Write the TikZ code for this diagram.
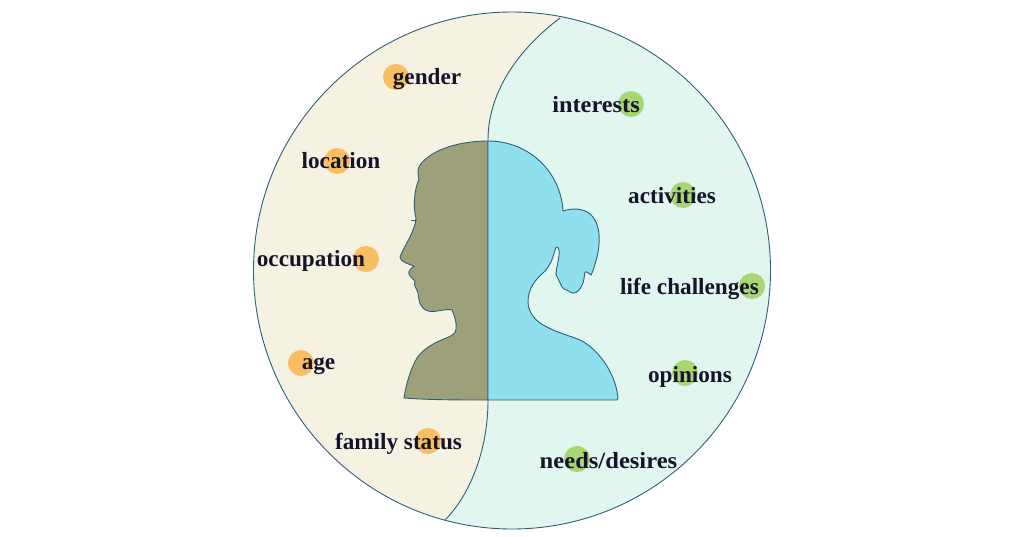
\documentclass[tikz,border=0pt]{standalone}
\usepackage{fontspec}
\setmainfont{Liberation Serif}
\definecolor{leftbg}{HTML}{F5F2E1}
\definecolor{rightbg}{HTML}{E1F6EF}
\definecolor{headl}{HTML}{9E9F7B}
\definecolor{headr}{HTML}{90DFEF}
\definecolor{edgec}{HTML}{2F6078}
\definecolor{orangedot}{HTML}{F9BE62}
\definecolor{greendot}{HTML}{A8D672}
\definecolor{labelc}{HTML}{14142B}
\tikzset{
  outline/.style={draw=edgec,line width=0.9pt,line join=round},
  odot/.style={circle,fill=orangedot,minimum size=26pt,inner sep=0pt},
  gdot/.style={circle,fill=greendot,minimum size=26pt,inner sep=0pt},
  lab/.style={text=labelc,font=\fontsize{23.2}{26}\selectfont\bfseries,inner sep=0pt,anchor=base},
}
\begin{document}
\begin{tikzpicture}[x=1pt,y=-1pt]
\useasboundingbox (0,0) rectangle (1024,536);
\fill[white] (0,0) rectangle (1024,536);
\coordinate (cc) at (512,270.5);
\begin{scope}
  \clip (cc) circle[radius=258.5pt];
  \fill[rightbg] (200,0) rectangle (800,536);
  \fill[leftbg] (200,0) -- (575,0) -- (560,18) .. controls (515,52) and (488,95) .. (488,140)
     -- (488,400) .. controls (488,450) and (470,495) .. (445,520) -- (420,536) -- (200,536) -- cycle;
\end{scope}
\draw[outline] (560,18) .. controls (515,52) and (488,95) .. (488,140) -- (488,400)
   .. controls (488,450) and (470,495) .. (445,520);
\draw[outline] (cc) circle[radius=258.5pt];
% left half of the head
\draw[outline,fill=headl] (488,141) .. controls (460,141) and (432,149) .. (420,165)
  .. controls (417,169) and (418,175) .. (419,179)
  .. controls (414,190) and (413,208) .. (416,218)
  .. controls (415,232) and (404,246) .. (400,257)
  .. controls (400,262) and (409,264) .. (414,266)
  .. controls (410,269) and (408,272) .. (409,274)
  .. controls (410,277) and (415,280) .. (415,282)
  .. controls (413,285) and (417,289) .. (418,293)
  .. controls (419,300) and (419,308) .. (428,311)
  .. controls (436,313) and (445,308) .. (452,310)
  .. controls (454,315) and (457,322) .. (456,329)
  .. controls (456,333) and (452,336) .. (446,338)
  .. controls (434,343) and (424,348) .. (417,358)
  .. controls (411,368) and (406,384) .. (404,398)
  .. controls (430,400) and (460,400) .. (488,400) -- cycle;
\draw[edgec,line width=0.9pt] (411,220.5) -- (417,220.5);
% right half of the head
\draw[outline,fill=headr] (488,141) .. controls (530,141) and (561,173) .. (563,211)
  .. controls (572,208) and (583,208) .. (590,214)
  .. controls (600,222) and (601,240) .. (597,257)
  .. controls (595,264) and (593,272) .. (591,275)
  .. controls (589,274) and (587,271) .. (585,272)
  .. controls (584,277) and (584,282) .. (582,285)
  .. controls (579,292) and (574,295) .. (570,292)
  .. controls (567,289) and (565,291) .. (562,287)
  .. controls (560,283) and (558,278) .. (556,275)
  .. controls (556,267) and (560,258) .. (559,250)
  .. controls (558,246) and (556,246) .. (555,250)
  .. controls (553,258) and (550,266) .. (544,272)
  .. controls (536,279) and (528,288) .. (528,302)
  .. controls (528,314) and (538,323) .. (547,327)
  .. controls (560,334) and (572,336) .. (582,341)
  .. controls (600,351) and (616,375) .. (618,398)
  -- (617,400) -- (488,400) -- cycle;
% dots
\node[odot] (d1) at (396,77) {};
\node[odot] (d2) at (337,161) {};
\node[odot] (d3) at (366,259) {};
\node[odot] (d4) at (301,363) {};
\node[odot] (d5) at (428,441) {};
\node[gdot] (d6) at (631,104) {};
\node[gdot] (d7) at (683,195) {};
\node[gdot] (d8) at (752,286) {};
\node[gdot] (d9) at (685,373) {};
\node[gdot] (d10) at (577,459) {};
% labels
\node[lab] (t1) at (427,84) {gender};
\node[lab] (t2) at (341,168) {location};
\node[lab] (t3) at (311,266) {occupation};
\node[lab] (t4) at (318.5,369) {age};
\node[lab] (t5) at (398.5,449) {family status};
\node[lab,xscale=1.05,transform shape] (t6) at (596,112.5) {interests};
\node[lab] (t7) at (672,203.5) {activities};
\node[lab] (t8) at (689.5,294) {life challenges};
\node[lab] (t9) at (690,382) {opinions};
\node[lab,xscale=1.06,transform shape] (t10) at (608.5,468.5) {needs/desires};
\end{tikzpicture}
\end{document}
